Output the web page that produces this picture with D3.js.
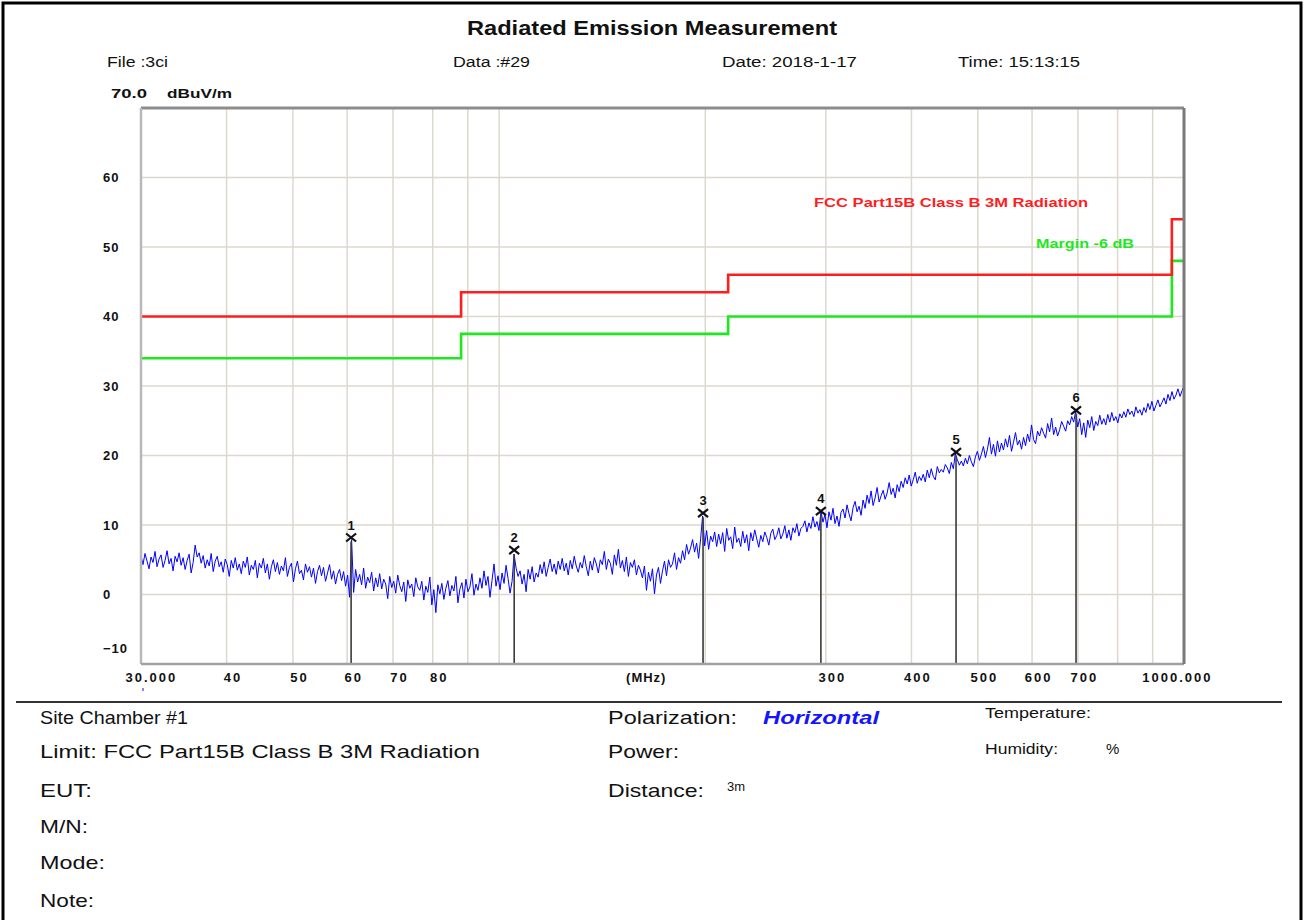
<!DOCTYPE html>
<html>
<head>
<meta charset="utf-8">
<script src="https://cdn.jsdelivr.net/npm/d3@7"></script>
<style>
body { margin: 0; background: #fff; }
svg { display: block; font-family: Arial, "Liberation Sans", sans-serif; }
</style>
</head>
<body>
<svg width="1304" height="920"></svg>
<script>
// sweep range (MHz), the trace points are spread log-evenly over it
var sweepStart = 30, sweepStop = 1000;

var traceLevel = [
  5.6, 4.3, 5.9, 4.8, 3.7, 5.4, 4.6, 6.2, 4.0, 5.1,
  5.7, 3.9, 4.9, 6.3, 4.4, 5.2, 3.4, 5.5, 4.7, 6.0,
  4.2, 5.3, 3.6, 4.9, 5.8, 3.1, 4.6, 7.1, 5.4, 6.0,
  4.5, 5.6, 3.8, 5.0, 4.1, 5.9, 3.3, 4.8, 5.5, 4.0,
  4.7, 3.2, 5.1, 4.3, 2.6, 4.9, 3.8, 5.3, 3.5, 4.4,
  3.0, 4.8, 3.9, 5.4, 2.8, 4.2, 3.6, 4.9, 2.4, 4.5,
  3.8, 5.2, 3.1, 4.4, 2.2, 4.0, 5.0, 3.3, 4.6, 2.9,
  4.1, 3.4, 5.3, 2.6, 3.9, 4.5, 1.8, 3.7, 4.8, 3.0,
  3.5, 2.1, 4.4, 3.2, 4.0, 2.5, 3.8, 1.6, 3.3, 4.2,
  2.7, 3.9, 1.9, 3.1, 4.3, 2.2, 3.4, 1.5, 2.9, 3.6,
  2.0, 3.3, 1.2, 2.8, -0.4, 7.9, 0.3, 3.6, 1.8, 2.9,
  1.4, 3.8, 0.9, 2.5, 1.7, 3.2, 0.5, 2.4, 1.1, 3.0,
  0.8, 2.2, 1.5, -0.6, 2.6, 1.0, 1.9, 0.2, 2.8, 1.3,
  0.4, 1.8, -1.0, 2.1, 0.9, 1.5, -0.3, 2.4, 1.1, 0.6,
  1.9, -0.8, 1.2, 0.3, 2.5, -1.5, 0.7, -2.6, 1.4, 0.1,
  1.6, -0.7, 0.9, 2.0, -0.2, 1.3, 0.5, 2.6, -1.2, 0.8,
  1.7, -0.5, 2.2, 0.4, 1.1, 3.0, -0.1, 1.5, 0.6, 2.4,
  0.9, 3.4, 1.3, 2.6, -0.4, 2.0, 4.4, 1.2, 2.7, 0.7,
  3.1, 1.6, 4.2, 2.3, 0.2, 1.9, 5.8, 3.8, 2.6, 3.4,
  1.5, 2.9, 0.4, 3.6, 2.2, 4.0, 1.8, 3.1, 2.5, 4.3,
  3.0, 4.7, 2.6, 3.9, 5.1, 3.3, 4.4, 2.9, 4.8, 3.6,
  5.2, 3.4, 4.5, 2.8, 4.9, 3.7, 5.5, 4.1, 3.2, 4.6,
  3.8, 5.6, 4.0, 2.7, 4.8, 3.5, 5.3, 4.4, 3.1, 5.0,
  4.3, 6.2, 3.6, 5.1, 4.5, 2.9, 5.7, 4.2, 6.5, 3.8,
  4.9, 3.3, 5.4, 2.6, 4.6, 3.9, 5.0, 2.8, 4.2, 3.5,
  2.4, 4.1, 0.6, 3.2, 1.9, 3.7, 0.1, 2.8, 3.9, 1.6,
  3.4, 4.8, 2.7, 5.0, 3.9, 4.4, 6.0, 3.6, 5.3, 4.5,
  6.3, 5.0, 7.2, 5.8, 6.7, 7.9, 6.1, 7.4, 5.2, 8.0,
  11.3, 7.0, 9.2, 6.5, 8.4, 7.6, 9.0, 6.9, 8.7, 7.3,
  8.9, 6.2, 9.5, 7.8, 8.3, 6.6, 9.7, 7.5, 8.1, 6.9,
  9.1, 7.4, 8.6, 6.3, 8.9, 7.7, 9.3, 8.0, 6.8, 8.5,
  7.6, 9.0, 8.2, 7.1, 8.8, 9.4, 7.9, 8.5, 9.6, 8.0,
  8.7, 9.9, 8.1, 9.3, 7.8, 9.6, 8.9, 10.2, 8.4, 9.5,
  9.8, 10.6, 9.0, 10.3, 9.5, 11.2, 9.7, 10.5, 9.2, 12.0,
  10.4, 11.5, 9.6, 11.9, 10.7, 12.4, 10.2, 11.3, 9.8, 11.8,
  12.3, 11.0, 12.9, 11.6, 10.6, 12.5, 13.4, 11.9, 12.7, 11.4,
  13.6, 12.4, 14.3, 13.1, 14.9, 12.8, 13.9, 15.4, 13.3, 14.2,
  15.0, 13.7, 14.6, 16.1, 14.4, 15.3, 13.9, 15.8, 14.8, 16.3,
  15.4, 16.8, 15.9, 17.2, 15.6, 16.5, 17.6, 16.0, 17.0, 16.4,
  17.3, 16.2, 17.9, 16.8, 18.1, 17.0, 16.5, 18.4, 17.5, 18.0,
  17.6, 18.7, 18.2, 17.4, 19.0, 18.1, 20.3, 19.4, 18.6, 19.2,
  18.5, 19.6, 18.8, 20.0, 19.1, 18.4, 19.8, 20.6, 19.3, 20.2,
  21.3, 19.7, 20.9, 22.6, 20.2, 21.6, 19.9, 22.1, 20.5, 21.8,
  20.8, 22.4, 21.2, 22.9, 20.6, 21.9, 23.3, 21.5, 22.2, 20.9,
  22.6, 21.4, 23.1, 22.0, 24.4, 22.3, 21.7, 23.5, 22.8, 24.0,
  23.2, 22.5, 24.6, 23.4, 25.4, 23.0, 24.1, 22.8, 23.7, 24.9,
  24.2, 23.5, 25.0, 24.4, 25.6, 24.8, 26.4, 24.1, 25.3, 23.0,
  24.7, 22.6, 25.1, 24.0, 25.6, 23.6, 24.9, 24.3, 25.8, 24.5,
  25.3, 24.4, 25.9, 24.8, 26.2, 25.0, 25.6, 24.7, 26.0, 25.4,
  26.3, 25.5, 26.7, 25.9, 26.4, 25.6, 27.0, 26.1, 26.6, 25.8,
  26.9, 26.2, 27.5, 26.6, 27.8, 26.4, 27.2, 28.0, 27.0, 27.6,
  28.3, 27.4, 28.8, 27.9, 29.2, 28.1, 28.7, 29.6, 28.5, 29.3,
  30.0
];

// FCC Part15B class B 3m limit and the -6 dB margin line
var limitFreq = [30, 88, 88, 216, 216, 960, 960, 1000];
var limitLevel = [40, 40, 43.5, 43.5, 46, 46, 54, 54];
var marginLevel = [34, 34, 37.5, 37.5, 40, 40, 48, 48];

// peak markers
var markerNo = [1, 2, 3, 4, 5, 6];
var markerFreq = [60.8, 105.2, 198.5, 295, 464.7, 695.6];
var markerLevel = [8.2, 6.4, 11.7, 12.0, 20.5, 26.5];

// axes
var gridFreq = [40, 50, 60, 70, 80, 90, 100, 200, 300, 400, 500, 600, 700, 800, 900];
var gridLevel = [0, 10, 20, 30, 40, 50, 60];
var xTickFreq = [30, 40, 50, 60, 70, 80, 300, 400, 500, 600, 700, 1000];
var xTickLabels = ["30.000", "40", "50", "60", "70", "80", "300", "400", "500", "600", "700", "1000.000"];
var yTicks = [60, 50, 40, 30, 20, 10, 0, -10];

var svg = d3.select("svg"),
  margin = { top: 108, right: 120, bottom: 256, left: 141 },
  width = +svg.attr("width") - margin.left - margin.right,
  height = +svg.attr("height") - margin.top - margin.bottom,
  g = svg.append("g").attr("transform", "translate(" + margin.left + "," + margin.top + ")");

var x = d3.scaleLog().domain([sweepStart, sweepStop]).range([0, width]),
  y = d3.scaleLinear().domain([-10, 70]).range([height, 0]);

var n = traceLevel.length;
var trace = traceLevel.map(function(v, i) {
  return { f: sweepStart * Math.pow(sweepStop / sweepStart, i / (n - 1)), v: v };
});

// page frame and separator
svg.append("rect")
  .attr("x", 3).attr("y", 3).attr("width", 1298).attr("height", 960)
  .attr("fill", "none").attr("stroke", "#000").attr("stroke-width", 3);
svg.append("line")
  .attr("x1", 16).attr("x2", 1282).attr("y1", 702).attr("y2", 702)
  .attr("stroke", "#333").attr("stroke-width", 2);

// text helper
function label(t, px, py, size, opts) {
  opts = opts || {};
  var el = svg.append("text")
    .attr("x", px).attr("y", py)
    .attr("font-size", size)
    .attr("font-weight", opts.bold ? "bold" : "normal")
    .attr("font-style", opts.italic ? "italic" : "normal")
    .attr("fill", opts.color || "#111")
    .attr("text-anchor", opts.anchor || "start")
    .text(t);
  if (opts.len) el.attr("textLength", opts.len).attr("lengthAdjust", "spacingAndGlyphs");
  return el;
}

// header
label("Radiated Emission Measurement", 652, 35, 20, { bold: true, anchor: "middle", len: 370 });
label("File :3ci", 107, 67, 14, { len: 61 });
label("Data :#29", 453, 67, 14, { len: 77 });
label("Date: 2018-1-17", 722, 67, 14, { len: 135 });
label("Time: 15:13:15", 958, 67, 14, { len: 122 });
label("70.0", 111, 98, 13, { bold: true, len: 36 });
label("dBuV/m", 167, 98, 13, { bold: true, len: 65 });

// grid
g.selectAll(".vgrid").data(gridFreq).enter().append("line")
  .attr("class", "vgrid")
  .attr("x1", function(d) { return x(d); }).attr("x2", function(d) { return x(d); })
  .attr("y1", 0).attr("y2", height)
  .attr("stroke", "#dcd8d0").attr("stroke-width", 1.5);
g.selectAll(".hgrid").data(gridLevel).enter().append("line")
  .attr("class", "hgrid")
  .attr("x1", 0).attr("x2", width)
  .attr("y1", function(d) { return y(d); }).attr("y2", function(d) { return y(d); })
  .attr("stroke", "#dcd8d0").attr("stroke-width", 1.5);

// limit + margin
var stepLine = function(levels) {
  return d3.line()
    .x(function(d, i) { return x(limitFreq[i]); })
    .y(function(d, i) { return y(levels[i]); })(levels);
};
g.append("path").attr("d", stepLine(marginLevel))
  .attr("fill", "none").attr("stroke", "#1ee81e").attr("stroke-width", 2.6);
g.append("path").attr("d", stepLine(limitLevel))
  .attr("fill", "none").attr("stroke", "#ff1e1e").attr("stroke-width", 2.6);

// measured trace
var line = d3.line()
  .x(function(d) { return x(d.f); })
  .y(function(d) { return y(d.v); });
g.append("path").datum(trace)
  .attr("d", line)
  .attr("fill", "none").attr("stroke", "#0000ff").attr("stroke-width", 1);

// markers
var mk = g.selectAll(".marker").data(markerNo).enter().append("g")
  .attr("class", "marker")
  .attr("transform", function(d, i) { return "translate(" + x(markerFreq[i]) + "," + y(markerLevel[i]) + ")"; });
mk.append("line")
  .attr("x1", 0).attr("x2", 0)
  .attr("y1", 4)
  .attr("y2", function(d, i) { return height - y(markerLevel[i]); })
  .attr("stroke", "#3a3a3a").attr("stroke-width", 1.6);
mk.append("path")
  .attr("d", "M-5,-4L5,4M5,-4L-5,4")
  .attr("stroke", "#111").attr("stroke-width", 2.2).attr("fill", "none");
mk.append("text")
  .attr("y", -8)
  .attr("text-anchor", "middle")
  .attr("font-size", 13).attr("font-weight", "bold").attr("fill", "#111")
  .text(function(d) { return d; });

// legend texts
g.append("text")
  .attr("x", x(sweepStop) - 370).attr("y", y(55.7))
  .attr("font-size", 13).attr("font-weight", "bold").attr("fill", "#ff1e1e")
  .attr("textLength", 274).attr("lengthAdjust", "spacingAndGlyphs")
  .text("FCC Part15B Class B 3M Radiation");
g.append("text")
  .attr("x", x(sweepStop) - 148).attr("y", y(49.8))
  .attr("font-size", 13).attr("font-weight", "bold").attr("fill", "#1ee81e")
  .attr("textLength", 98).attr("lengthAdjust", "spacingAndGlyphs")
  .text("Margin -6 dB");

// plot frame
g.append("line").attr("x1", 0).attr("x2", width).attr("y1", 0).attr("y2", 0)
  .attr("stroke", "#8c8c8c").attr("stroke-width", 3);
g.append("line").attr("x1", 0).attr("x2", 0).attr("y1", 0).attr("y2", height)
  .attr("stroke", "#b8b8b8").attr("stroke-width", 2.5);
g.append("line").attr("x1", 0).attr("x2", width).attr("y1", height).attr("y2", height)
  .attr("stroke", "#a0a0a0").attr("stroke-width", 2.5);
g.append("line").attr("x1", width).attr("x2", width).attr("y1", 0).attr("y2", height)
  .attr("stroke", "#7a7a7a").attr("stroke-width", 3);

// y axis
var yAxis = d3.axisLeft(y).tickValues(yTicks).tickSize(0).tickFormat(d3.format("d"));
var ya = g.append("g").attr("class", "axis axisy").call(yAxis);
ya.select(".domain").remove();
ya.selectAll("text")
  .attr("x", -38)
  .attr("text-anchor", "start")
  .attr("font-family", "Arial, 'Liberation Sans', sans-serif")
  .attr("font-size", 13).attr("font-weight", "bold").attr("fill", "#111")
  .attr("letter-spacing", 1)
  .attr("dy", function(d) { return d === -10 ? "-0.85em" : "0.32em"; });

// x axis
var xAxis = d3.axisBottom(x).tickValues(xTickFreq).tickSize(0)
  .tickFormat(function(d, i) { return xTickLabels[i]; });
var xa = g.append("g").attr("class", "axis axisx")
  .attr("transform", "translate(0," + height + ")")
  .call(xAxis);
xa.select(".domain").remove();
xa.selectAll("text")
  .attr("y", 9)
  .attr("font-family", "Arial, 'Liberation Sans', sans-serif")
  .attr("font-size", 13).attr("font-weight", "bold").attr("fill", "#111")
  .attr("letter-spacing", 2)
  .attr("text-anchor", function(d, i) { return i === 0 ? "start" : (i === xTickFreq.length - 1 ? "end" : "middle"); })
  .attr("x", function(d, i) { return i === 0 ? -16 : (i === xTickFreq.length - 1 ? 28 : 6); });
xa.append("text")
  .attr("x", x(164)).attr("y", 9).attr("dy", "0.71em")
  .attr("text-anchor", "middle")
  .attr("font-size", 13).attr("font-weight", "bold").attr("fill", "#111")
  .attr("letter-spacing", 1)
  .text("(MHz)");
// tiny blue tick under the start frequency, as in the original print
svg.append("rect").attr("x", 142).attr("y", 688).attr("width", 2).attr("height", 3).attr("fill", "#8888ff");

// info block
label("Site Chamber #1", 40, 724, 19, { len: 148 });
label("Limit: FCC Part15B Class B 3M Radiation", 40, 758, 19, { len: 440 });
label("EUT:", 40, 797, 19, { len: 52 });
label("M/N:", 40, 833, 19, { len: 48 });
label("Mode:", 40, 869, 19, { len: 65 });
label("Note:", 40, 907, 19, { len: 54 });
label("Polarization:", 608, 724, 19, { len: 129 });
label("Horizontal", 763, 724, 19, { bold: true, italic: true, color: "#1414ff", len: 116 });
label("Power:", 608, 758, 19, { len: 71 });
label("Distance:", 608, 797, 19, { len: 96 });
label("3m", 727, 791, 13, {});
label("Temperature:", 985, 718, 15, { len: 106 });
label("Humidity:", 985, 754, 15, { len: 73 });
label("%", 1106, 754, 15, {});
</script>
</body>
</html>
